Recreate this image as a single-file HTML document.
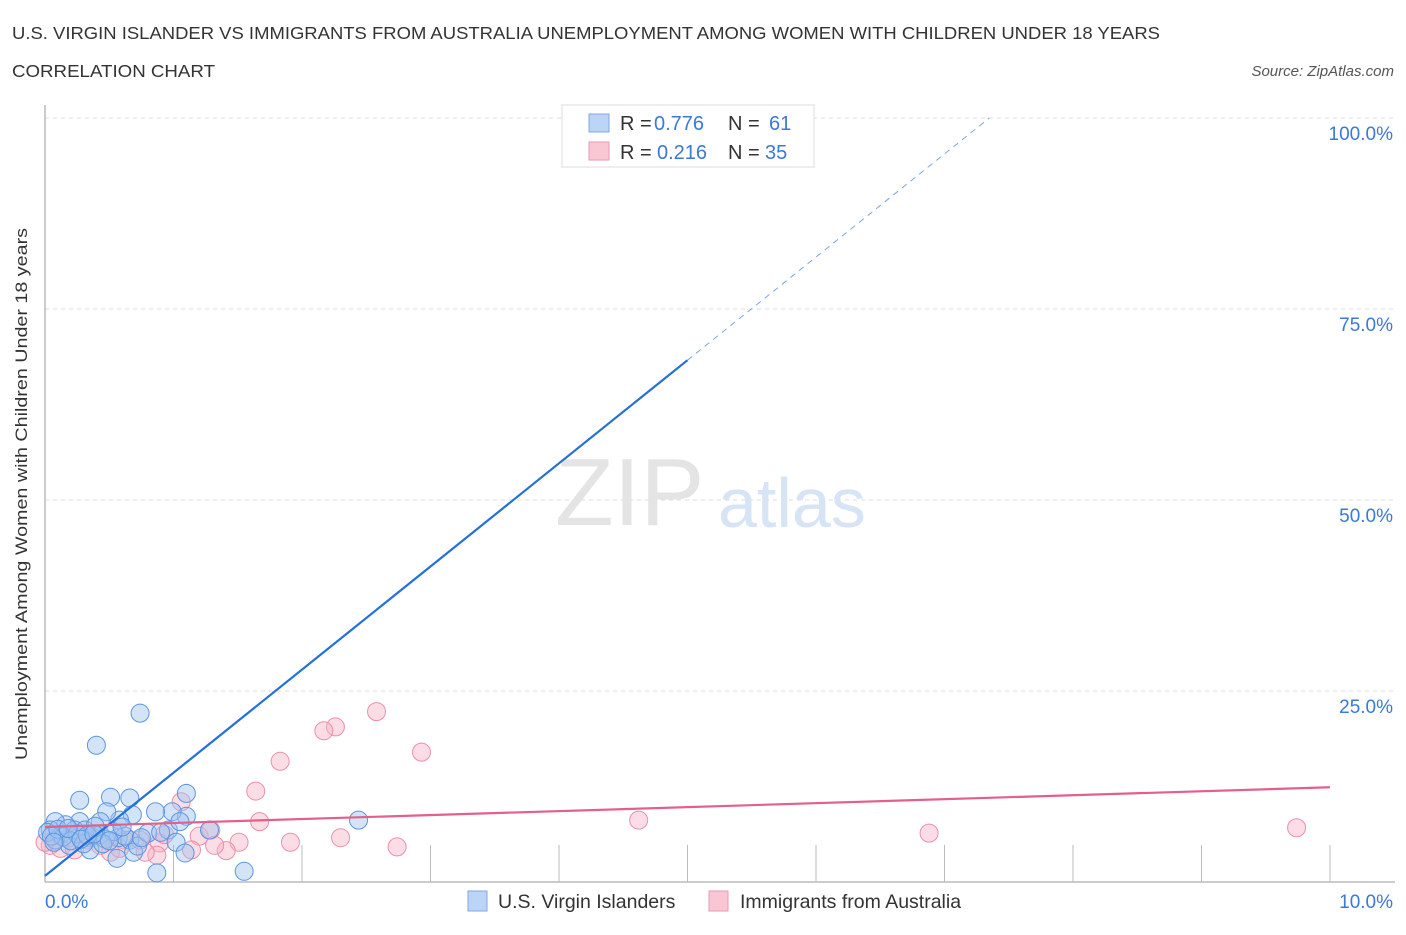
<!DOCTYPE html>
<html><head><meta charset="utf-8"><style>
body{margin:0;background:#fff;font-family:"Liberation Sans",sans-serif}
svg text{font-family:"Liberation Sans",sans-serif}
</style></head><body>
<svg width="1406" height="930" viewBox="0 0 1406 930">
<text x="12" y="39" font-size="17.5" fill="#333" textLength="1148" lengthAdjust="spacingAndGlyphs">U.S. VIRGIN ISLANDER VS IMMIGRANTS FROM AUSTRALIA UNEMPLOYMENT AMONG WOMEN WITH CHILDREN UNDER 18 YEARS</text>
<text x="12" y="77" font-size="17.5" fill="#333" textLength="203" lengthAdjust="spacingAndGlyphs">CORRELATION CHART</text>
<text x="1394" y="76" font-size="15" fill="#555" font-style="italic" text-anchor="end">Source: ZipAtlas.com</text>
<g id="grid"></g>
<text x="555" y="525" font-size="96" fill="#e4e4e4" font-family="Liberation Serif">ZIP</text>
<text x="718" y="527" font-size="70" fill="#d6e4f6">atlas</text>
<g id="pts"></g>
<g id="lines"></g>
<g>
<rect x="562" y="105" width="252" height="62" fill="#fff" stroke="#ddd"/>
<rect x="589" y="114" width="20" height="18" fill="#bcd5f6" stroke="#7fa8e0"/>
<rect x="589" y="142" width="20" height="18" fill="#f9c6d4" stroke="#ea9ab3"/>
<text x="620" y="130" font-size="20" fill="#333">R =</text>
<text x="654" y="130" font-size="20" fill="#3b78d8">0.776</text>
<text x="728" y="130" font-size="20" fill="#333">N =</text>
<text x="769" y="130" font-size="20" fill="#3b78d8">61</text>
<text x="620" y="159" font-size="20" fill="#333">R =</text>
<text x="657" y="159" font-size="20" fill="#3b78d8">0.216</text>
<text x="728" y="159" font-size="20" fill="#333">N =</text>
<text x="765" y="159" font-size="20" fill="#3b78d8">35</text>
</g>
<text x="27" y="494" font-size="17" fill="#333" text-anchor="middle" textLength="532" lengthAdjust="spacingAndGlyphs" transform="rotate(-90 27 494)">Unemployment Among Women with Children Under 18 years</text>
<g>
<rect x="468" y="891" width="19" height="20" fill="#bcd5f6" stroke="#7fa8e0"/>
<text x="498" y="908" font-size="19.5" fill="#333">U.S. Virgin Islanders</text>
<rect x="709" y="891" width="19" height="20" fill="#f9c6d4" stroke="#ea9ab3"/>
<text x="740" y="908" font-size="19.5" fill="#333">Immigrants from Australia</text>
</g>
</svg>
<script>
const yTicks=[25,50,75,100];
const yTickLabels=["25.0%","50.0%","75.0%","100.0%"];
const xTickLabels=["0.0%","10.0%"];
const blueX=[0.74,0.40,4.94,2.44,0.87,1.55,1.10,0.27,0.51,0.66,1.10,0.99,0.86,0.68,0.58,0.48,0.43,0.27,0.16,0.08,0.04,0.12,0.23,0.35,0.43,0.57,0.66,0.96,1.05,1.28,1.02,1.09,0.69,0.56,0.35,0.19,0.08,0.02,0.72,0.31,0.39,0.14,0.25,0.47,0.62,0.80,0.05,0.20,0.30,0.53,0.10,0.45,0.75,0.90,0.33,0.18,0.60,0.07,0.28,0.38,0.50];
const blueY=[22.1,17.9,100,8.1,1.2,1.4,11.6,10.7,11.1,11.0,8.6,9.2,9.2,8.8,8.1,9.2,7.9,7.9,7.5,7.9,6.8,6.2,6.8,5.8,6.2,5.8,5.5,6.8,7.9,6.8,5.2,3.8,3.9,3.1,4.2,4.8,5.5,6.5,4.7,6.8,7.3,5.9,6.3,5.6,6.0,6.4,6.0,5.4,5.0,6.6,6.9,5.0,5.8,6.5,6.1,7.0,7.2,5.2,5.6,6.3,5.4];
const pinkX=[2.58,2.26,2.17,2.93,1.83,1.64,9.74,6.88,4.62,1.06,1.67,1.91,2.30,2.74,1.20,1.29,1.51,1.41,1.32,1.14,0.89,0.87,0.78,0.74,0.62,0.51,0.93,0.04,0.12,0.23,0.33,0.43,0.58,0.19,0.00];
const pinkY=[22.3,20.3,19.8,17.0,15.8,11.9,7.1,6.4,8.1,10.5,7.9,5.2,5.8,4.6,6.0,6.8,5.2,4.1,4.8,4.2,5.1,3.5,3.9,5.5,5.5,3.9,6.2,4.8,4.4,4.2,5.5,4.8,4.4,5.8,5.2];
const blueLine=[0.8,13.5];
const pinkLine=[7.2,0.52];
const NS="http://www.w3.org/2000/svg";
const X=v=>45+v*128.5, Y=v=>882-v*7.64;
function mk(t,a,p){const e=document.createElementNS(NS,t);for(const k in a)e.setAttribute(k,a[k]);p.appendChild(e);return e;}
const grid=document.getElementById('grid');
yTicks.forEach((t,i)=>{
 const l=mk('line',{x1:45,x2:1395,y1:Y(t),y2:Y(t),stroke:'#ddd','stroke-dasharray':'4,4'},grid);
 
 
 const tx=mk('text',{x:1393,y:Y(t)+22,'font-size':19,fill:'#3b78d8','text-anchor':'end'},grid);
 tx.textContent=yTickLabels[i];
 
 
});
const ax=mk('line',{x1:45,x2:1395,y1:882,y2:882,stroke:'#bbb','stroke-width':1.5},grid);


const ay=mk('line',{x1:45,x2:45,y1:105,y2:882,stroke:'#bbb','stroke-width':1.5},grid);


for(let i=1;i<=10;i++){const t=mk('line',{x1:X(i),x2:X(i),y1:845,y2:882,stroke:'#bbb'},grid);
 
 }
[[0,'start',45],[10,'end',1393]].forEach((d,i)=>{const t=mk('text',{x:d[2],y:908,'font-size':19,fill:'#3b78d8','text-anchor':d[1]},grid);t.textContent=xTickLabels[i];
 
 });
const pts=document.getElementById('pts');
pinkX.forEach((x,i)=>{const c=mk('circle',{cx:X(x),cy:Y(pinkY[i]),r:9,fill:'rgba(248,180,200,0.45)',stroke:'#ea8fab','stroke-width':1},pts);
 
 });
blueX.forEach((x,i)=>{const c=mk('circle',{cx:X(x),cy:Y(blueY[i]),r:9,fill:'rgba(160,195,240,0.45)',stroke:'#5b95e0','stroke-width':1},pts);
 
 });
const lg=document.getElementById('lines');
const bx1=5.0,bx2=(100-blueLine[0])/blueLine[1];
const b1=mk('line',{x1:X(0),y1:Y(blueLine[0]),x2:X(bx1),y2:Y(blueLine[0]+blueLine[1]*bx1),stroke:'#2370d8','stroke-width':2.2},lg);


const b2=mk('line',{x1:X(bx1),y1:Y(blueLine[0]+blueLine[1]*bx1),x2:X(bx2),y2:Y(100),stroke:'#7aa6e0','stroke-width':1,'stroke-dasharray':'6,5'},lg);


const p1=mk('line',{x1:X(0),y1:Y(pinkLine[0]),x2:X(10),y2:Y(pinkLine[0]+pinkLine[1]*10),stroke:'#e4608a','stroke-width':2.2},lg);


</script>
</body></html>
